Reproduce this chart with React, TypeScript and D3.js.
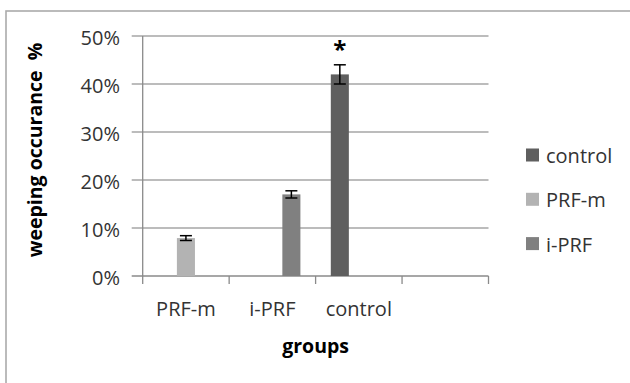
import React from "react"
import * as d3 from "d3"

// Data
const categories = ["PRF-m", "i-PRF", "control", ""]
const seriesNames = ["control", "PRF-m", "i-PRF"]
const controlValues = [0, 0, 0.42, 0]
const prfmValues = [0.079, 0, 0, 0]
const iprfValues = [0, 0.17, 0, 0]
const controlErrors = [0, 0, 0.02, 0]
const prfmErrors = [0.005, 0, 0, 0]
const iprfErrors = [0, 0.0075, 0, 0]
const yTicks = [0, 0.1, 0.2, 0.3, 0.4, 0.5]
const significant = ["", "", "*", ""]

const seriesValues = [controlValues, prfmValues, iprfValues]
const seriesErrors = [controlErrors, prfmErrors, iprfErrors]
const seriesColors = ["#5f5f5f", "#b3b3b3", "#808080"]

const font = "'Open Sans', sans-serif"
const textColor = "#333"

export default function App() {
  // Dimensions
  const totalW = 630
  const totalH = 383
  const plot = { left: 142.7, right: 488.5, top: 36, bottom: 276 }

  // Scales
  const x0 = d3.scaleBand().domain(categories).range([plot.left, plot.right]).padding(0)
  const x1 = d3
    .scaleBand()
    .domain(seriesNames)
    .range([0, x0.bandwidth()])
    .paddingInner(0.05)
    .paddingOuter(0.8)
  const y = d3.scaleLinear().domain([0, 0.5]).range([plot.bottom, plot.top])
  const fmt = d3.format(".0%")

  const tickXs = categories.map((c) => x0(c) as number).concat([plot.right])

  return (
    <>
      <style>{"body{margin:0}"}</style>
      <svg width={totalW} height={totalH} style={{ display: "block", background: "#fff" }}>
        {/* chart border */}
        <rect x={6} y={11} width={640} height={400} fill="#fff" stroke="#ababab" strokeWidth={1.6} />

        {/* gridlines + y ticks */}
        {yTicks.map((t) => (
          <g key={`g-${t}`}>
            <line
              x1={plot.left - 11}
              x2={t === 0 ? plot.right : plot.right}
              y1={y(t)}
              y2={y(t)}
              stroke={t === 0 ? "#8a8a8a" : "#a6a6a6"}
              strokeWidth={1.3}
            />
            <text
              x={120}
              y={y(t) + 9}
              textAnchor="end"
              fontFamily={font}
              fontSize={20}
              fill={textColor}
            >
              {fmt(t)}
            </text>
          </g>
        ))}

        {/* y axis */}
        <line x1={plot.left} x2={plot.left} y1={plot.top} y2={plot.bottom} stroke="#8a8a8a" strokeWidth={1.3} />

        {/* x ticks */}
        {tickXs.map((tx, i) => (
          <line key={`xt-${i}`} x1={tx} x2={tx} y1={plot.bottom} y2={plot.bottom + 8} stroke="#8a8a8a" strokeWidth={1.3} />
        ))}

        {/* x labels */}
        {categories.map((c) => (
          <text
            key={`xl-${c}`}
            x={(x0(c) as number) + x0.bandwidth() / 2}
            y={316}
            textAnchor="middle"
            fontFamily={font}
            fontSize={20}
            fill={textColor}
          >
            {c}
          </text>
        ))}

        {/* bars */}
        {seriesNames.map((s, si) =>
          categories.map((c, ci) => {
            const v = seriesValues[si][ci]
            if (!v) return null
            const bx = (x0(c) as number) + (x1(s) as number)
            return (
              <rect
                key={`bar-${s}-${c}`}
                x={bx}
                y={y(v)}
                width={x1.bandwidth()}
                height={plot.bottom - y(v)}
                fill={seriesColors[si]}
              />
            )
          })
        )}

        {/* error bars */}
        {seriesNames.map((s, si) =>
          categories.map((c, ci) => {
            const v = seriesValues[si][ci]
            const e = seriesErrors[si][ci]
            if (!e) return null
            const cx = (x0(c) as number) + (x1(s) as number) + x1.bandwidth() / 2
            return (
              <g key={`err-${s}-${c}`} stroke="#000" strokeWidth={1.5}>
                <line x1={cx} x2={cx} y1={y(v + e)} y2={y(v - e)} />
                <line x1={cx - 6} x2={cx + 6} y1={y(v + e)} y2={y(v + e)} />
                <line x1={cx - 6} x2={cx + 6} y1={y(v - e)} y2={y(v - e)} />
              </g>
            )
          })
        )}

        {/* significance marks */}
        {categories.map((c, ci) => {
          if (!significant[ci]) return null
          const si = seriesValues.findIndex((arr) => arr[ci] > 0)
          const cx = (x0(c) as number) + (x1(seriesNames[si]) as number) + x1.bandwidth() / 2
          const top = seriesValues[si][ci] + seriesErrors[si][ci]
          return (
            <text
              key={`sig-${c}`}
              x={cx}
              y={y(top) - 7}
              textAnchor="middle"
              fontFamily={font}
              fontWeight="bold"
              fontSize={24}
              fill="#000"
            >
              {significant[ci]}
            </text>
          )
        })}

        {/* axis titles */}
        <text
          x={(plot.left + plot.right) / 2}
          y={353}
          textAnchor="middle"
          fontFamily={font}
          fontWeight="bold"
          fontSize={19.5}
          fill="#000"
        >
          groups
        </text>
        <text
          transform="translate(42,150) rotate(-90)"
          textAnchor="middle"
          fontFamily={font}
          fontWeight="bold"
          fontSize={19.5}
          fill="#000"
          style={{ whiteSpace: "pre" }}
        >
          {"weeping occurance  %"}
        </text>

        {/* legend */}
        {seriesNames.map((s, i) => {
          const cy = 155 + i * 44.3
          return (
            <g key={`lg-${s}`}>
              <rect x={526} y={cy - 6.5} width={13} height={13} fill={seriesColors[i]} />
              <text x={546} y={cy + 8} fontFamily={font} fontSize={20} fill={textColor}>
                {s}
              </text>
            </g>
          )
        })}
      </svg>
    </>
  )
}
